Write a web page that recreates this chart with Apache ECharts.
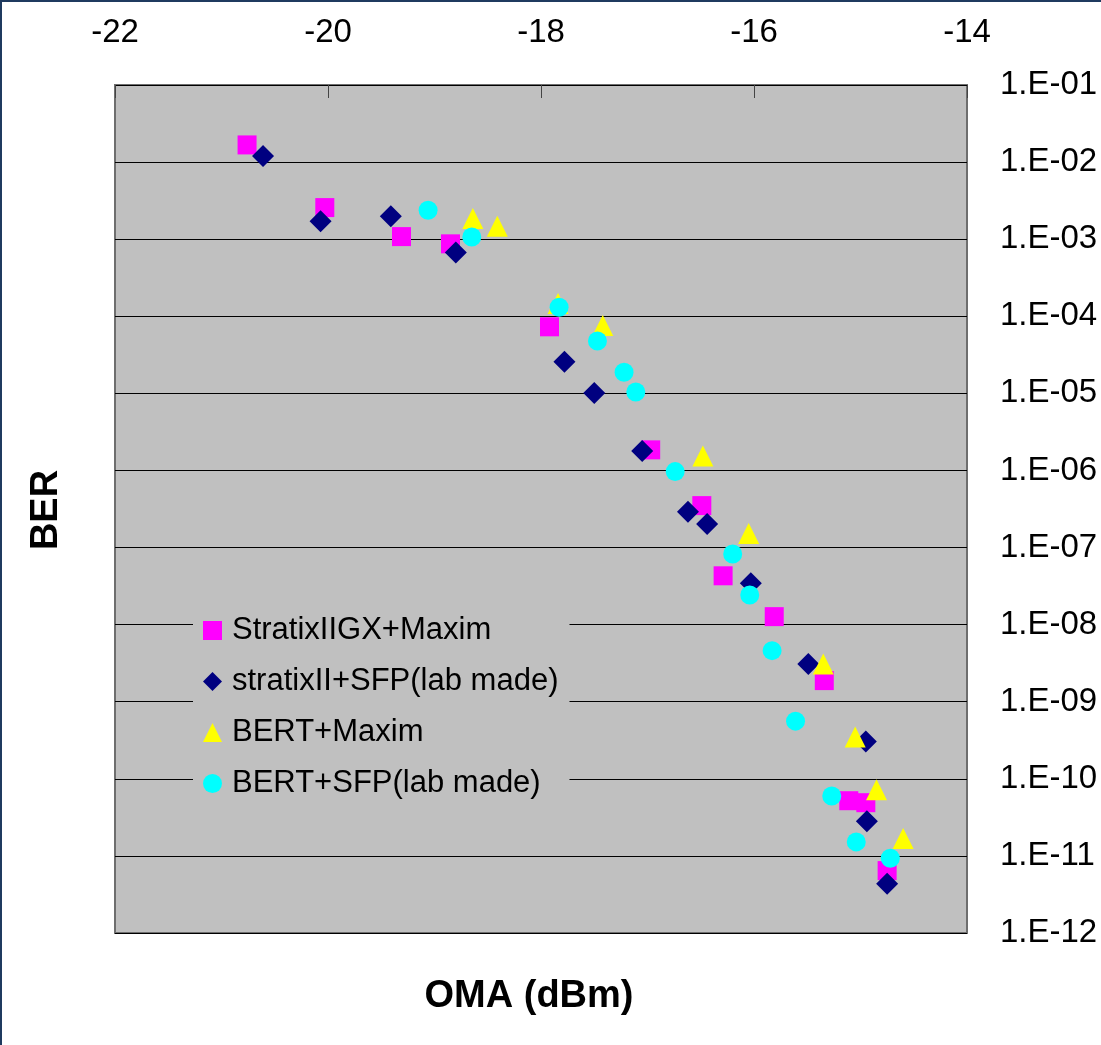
<!DOCTYPE html>
<html>
<head>
<meta charset="utf-8">
<script src="https://cdn.jsdelivr.net/npm/echarts@6/dist/echarts.min.js"></script>
<style>
html,body{margin:0;padding:0;background:#fff;}
#c{width:1101px;height:1045px;}
</style>
</head>
<body>
<div id="c"></div>
<script>
const seriesNames = ['StratixIIGX+Maxim', 'stratixII+SFP(lab made)', 'BERT+Maxim', 'BERT+SFP(lab made)'];

const s1X = [-20.76, -20.03, -19.31, -18.85, -17.92, -16.97, -16.49, -16.29, -15.81, -15.34, -15.11, -14.95, -14.75];
const s1Y = [1.67e-2, 2.57e-3, 1.08e-3, 8.7e-4, 7.3e-5, 1.85e-6, 3.5e-7, 4.3e-8, 1.27e-8, 1.88e-9, 5.2e-11, 4.9e-11, 6.45e-12];

const s2X = [-20.61, -20.07, -19.41, -18.80, -17.78, -17.50, -17.05, -16.62, -16.44, -16.03, -15.49, -14.95, -14.94, -14.75];
const s2Y = [1.2e-2, 1.71e-3, 1.98e-3, 6.7e-4, 2.58e-5, 1.01e-5, 1.79e-6, 2.92e-7, 2.02e-7, 3.44e-8, 3.09e-9, 3.04e-10, 2.82e-11, 4.34e-12];

const s3X = [-18.64, -18.41, -17.84, -17.42, -16.48, -16.05, -15.35, -15.05, -14.85, -14.60];
const s3Y = [1.85e-3, 1.47e-3, 1.46e-4, 7.6e-5, 1.54e-6, 1.52e-7, 3.09e-9, 3.5e-10, 7.2e-11, 1.68e-11];

const s4X = [-19.06, -18.65, -17.83, -17.47, -17.22, -17.11, -16.74, -16.20, -16.04, -15.83, -15.61, -15.27, -15.04, -14.72];
const s4Y = [2.37e-3, 1.07e-3, 1.31e-4, 4.79e-5, 1.88e-5, 1.04e-5, 9.66e-7, 8.26e-8, 2.43e-8, 4.6e-9, 5.6e-10, 6.0e-11, 1.52e-11, 9.3e-12];

const xTicks = [-22, -20, -18, -16, -14];

function zip(xs, ys) { return xs.map((x, i) => [x, ys[i]]); }

const FONT = "'Liberation Sans', Arial, sans-serif";
const chart = echarts.init(document.getElementById('c'), null, {renderer: 'canvas'});

const symbols = ['rect', 'diamond', 'triangle', 'circle'];
const sizes = [19, 22, 21, 19];
const colors = ['#FF00FF', '#000080', '#FFFF00', '#00FFFF'];
const dataSets = [zip(s1X, s1Y), zip(s2X, s2Y), zip(s3X, s3Y), zip(s4X, s4Y)];

chart.setOption({
  animation: false,
  backgroundColor: '#ffffff',
  textStyle: {fontFamily: FONT},
  grid: {
    left: 115, right: 134, top: 85, bottom: 112,
    show: true, backgroundColor: '#C0C0C0', borderColor: '#6e6e6e', borderWidth: 2
  },
  xAxis: {
    type: 'value', position: 'top',
    min: -22, max: -14, interval: 2,
    axisLine: {show: false},
    axisTick: {show: true, inside: true, length: 13, lineStyle: {color: '#444'}},
    splitLine: {show: false},
    axisLabel: {
      fontSize: 33, color: '#000', fontFamily: FONT, margin: 36,
      formatter: v => (xTicks.indexOf(v) >= 0 ? String(v) : '')
    }
  },
  yAxis: {
    type: 'log', logBase: 10, position: 'right',
    min: 1e-12, max: 1e-1, interval: 1,
    axisLine: {show: false},
    axisTick: {show: true, inside: true, length: 12, lineStyle: {color: '#000'}},
    splitLine: {show: true, lineStyle: {color: '#000', width: 1}},
    axisLabel: {
      fontSize: 33, color: '#000', fontFamily: FONT, margin: 33,
      padding: [6, 0, 0, 0],
      formatter: v => {
        const e = Math.round(Math.log10(v));
        const a = Math.abs(e);
        return '1.E' + (e < 0 ? '-' : '+') + (a < 10 ? '0' + a : a);
      }
    }
  },
  legend: {
    orient: 'vertical', left: 193, top: 600,
    padding: [15, 11, 10, 10],
    backgroundColor: '#C0C0C0',
    itemWidth: 19, itemHeight: 19, itemGap: 20,
    textStyle: {fontSize: 31, color: '#000', fontFamily: FONT, lineHeight: 31, padding: [0, 0, 0, 5]},
    data: seriesNames
  },
  graphic: [
    {type: 'text', x: 529, y: 997,
      style: {text: 'OMA (dBm)', font: "bold 38px " + FONT, fill: '#000', align: 'center', verticalAlign: 'middle'}},
    {type: 'text', x: 28, y: 510, rotation: Math.PI / 2,
      style: {text: 'BER', font: "bold 38px " + FONT, fill: '#000', align: 'center', verticalAlign: 'top'}},
    {type: 'rect', shape: {x: 1, y: 1, width: 1110, height: 1060},
      style: {fill: 'none', stroke: '#1f3a5f', lineWidth: 2}, silent: true}
  ],
  series: seriesNames.map((n, i) => ({
    name: n, type: 'scatter', data: dataSets[i],
    symbol: symbols[i], symbolSize: sizes[i],
    itemStyle: {color: colors[i], opacity: 1},
    z: 2 + i
  }))
});
</script>
</body>
</html>
